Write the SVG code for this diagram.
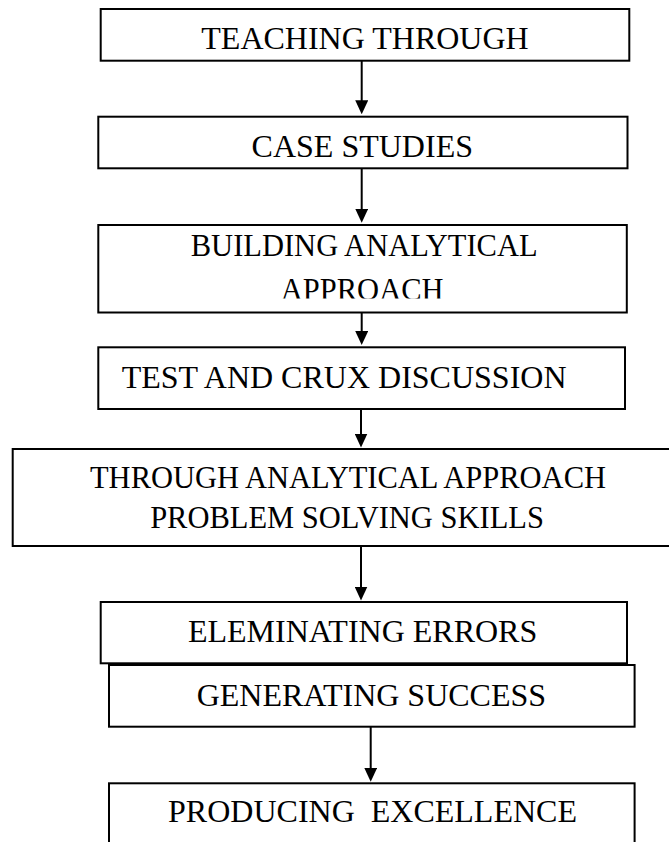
<svg xmlns="http://www.w3.org/2000/svg" width="669" height="842" viewBox="0 0 669 842">
  <style>
    .box { fill: #ffffff; stroke: #000000; stroke-width: 2; }
    .lbl { font-family: "Liberation Serif", "Times New Roman", serif; font-size: 32px; fill: #000000; text-anchor: middle; }
    .sm { font-size: 30.5px; }
    .conn { stroke: #000000; stroke-width: 2; fill: none; }
  </style>
  <defs>
    <marker id="arrow" viewBox="0 0 14 13" refX="10" refY="6.5" markerWidth="14" markerHeight="13" markerUnits="userSpaceOnUse" orient="auto">
      <path d="M0,0 L14,6.5 L0,13 Z" fill="#000000"/>
    </marker>
    <clipPath id="clip3">
      <rect x="98" y="225" width="530" height="73.5"/>
    </clipPath>
  </defs>
  <rect width="669" height="842" fill="#ffffff"/>

  <g id="connectors">
    <line class="conn" x1="361.7" y1="60.7" x2="361.7" y2="110.3" marker-end="url(#arrow)"/>
    <line class="conn" x1="361.7" y1="168.3" x2="361.7" y2="218.7" marker-end="url(#arrow)"/>
    <line class="conn" x1="361.7" y1="312.5" x2="361.7" y2="341" marker-end="url(#arrow)"/>
    <line class="conn" x1="361" y1="409" x2="361" y2="443.5" marker-end="url(#arrow)"/>
    <line class="conn" x1="361" y1="546" x2="361" y2="596.5" marker-end="url(#arrow)"/>
    <line class="conn" x1="370.7" y1="726.7" x2="370.7" y2="777.7" marker-end="url(#arrow)"/>
  </g>

  <g id="node-teaching">
    <rect class="box" x="100.7" y="9" width="528.6" height="51.7"/>
    <text class="lbl" x="365" y="49">TEACHING THROUGH</text>
  </g>

  <g id="node-case">
    <rect class="box" x="98.3" y="116.7" width="529.2" height="51.6"/>
    <text class="lbl" x="362.3" y="157.3">CASE STUDIES</text>
  </g>

  <g id="node-building">
    <rect class="box" x="98.3" y="225" width="528.5" height="87.5"/>
    <g clip-path="url(#clip3)">
      <text class="lbl sm" x="364.2" y="255.7">BUILDING ANALYTICAL</text>
      <text class="lbl sm" x="362.2" y="299.5">APPROACH</text>
    </g>
  </g>

  <g id="node-test">
    <rect class="box" x="98.3" y="347.3" width="526.7" height="61.7"/>
    <text class="lbl" x="121.7" y="387.7" style="text-anchor:start">TEST AND CRUX DISCUSSION</text>
  </g>

  <g id="node-through">
    <rect class="box" x="12.7" y="449" width="672" height="97"/>
    <text class="lbl sm" x="348" y="488.3">THROUGH ANALYTICAL APPROACH</text>
    <text class="lbl sm" x="347" y="528.3">PROBLEM SOLVING SKILLS</text>
  </g>

  <g id="node-eleminating">
    <rect class="box" x="100.7" y="602" width="526.3" height="61.3"/>
    <text class="lbl" x="362.6" y="642.3">ELEMINATING ERRORS</text>
  </g>

  <g id="node-generating">
    <rect class="box" x="109" y="665" width="525.6" height="61.7"/>
    <text class="lbl" x="371.4" y="706">GENERATING SUCCESS</text>
  </g>

  <g id="node-producing">
    <rect class="box" x="109" y="783.3" width="525.6" height="80"/>
    <text class="lbl" x="372.5" y="822.3" xml:space="preserve">PRODUCING  EXCELLENCE</text>
  </g>
</svg>
